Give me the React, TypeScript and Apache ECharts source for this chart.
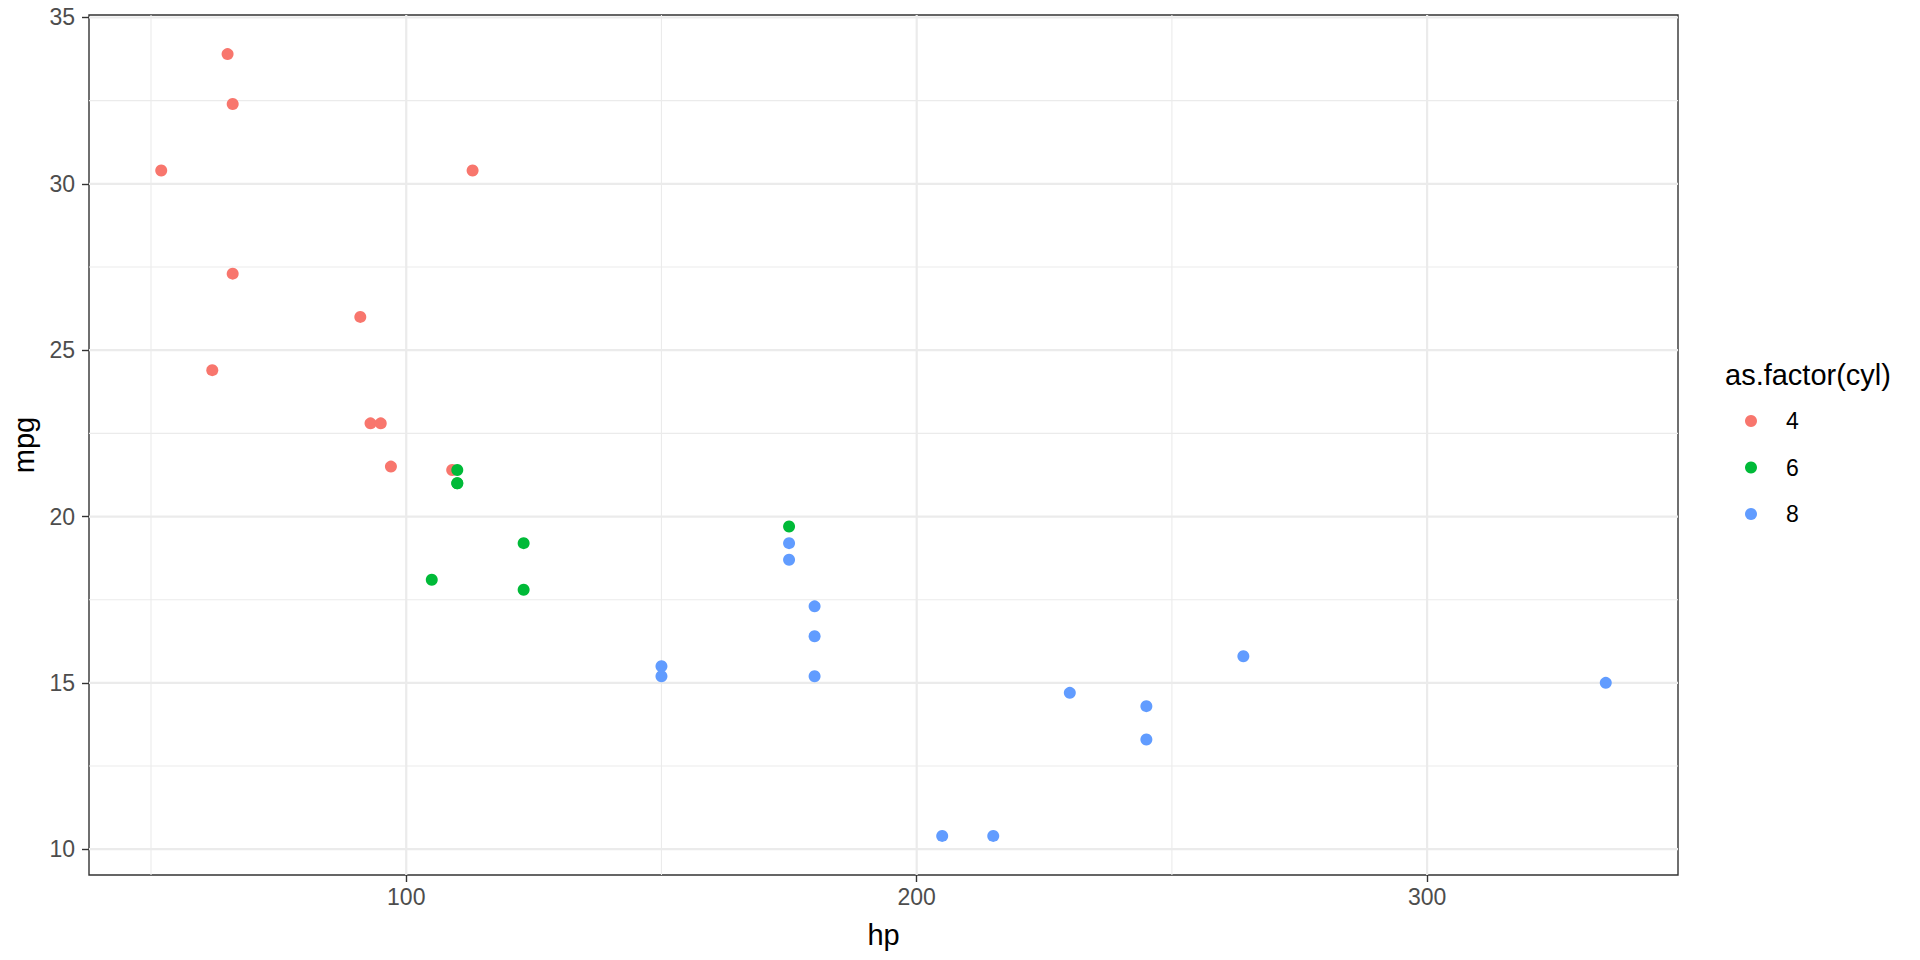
import React, { useEffect, useRef } from "react";
import * as echarts from "echarts";

const hp4 = [93, 62, 95, 66, 52, 65, 97, 66, 91, 113, 109];
const mpg4 = [22.8, 24.4, 22.8, 32.4, 30.4, 33.9, 21.5, 27.3, 26.0, 30.4, 21.4];
const hp6 = [110, 110, 110, 105, 123, 123, 175];
const mpg6 = [21.0, 21.0, 21.4, 18.1, 19.2, 17.8, 19.7];
const hp8 = [175, 245, 180, 180, 180, 205, 215, 230, 150, 150, 245, 175, 264, 335];
const mpg8 = [18.7, 14.3, 16.4, 17.3, 15.2, 10.4, 10.4, 14.7, 15.5, 15.2, 13.3, 19.2, 15.8, 15.0];

const cylLevels = ["4", "6", "8"];
const cylColors = ["#F8766D", "#00BA38", "#619CFF"];

const xMajor = [100, 200, 300];
const xMinor = [50, 150, 250];
const yMajor = [10, 15, 20, 25, 30, 35];
const yMinor = [12.5, 17.5, 22.5, 27.5, 32.5];

const xMin = 37.85;
const xMax = 349.15;
const yMin = 9.225;
const yMax = 35.075;

const FONT = "'Liberation Sans', Arial, Helvetica, sans-serif";

export default function App() {
  const ref = useRef<HTMLDivElement>(null);
  useEffect(() => {
    if (!ref.current) return;
    const chart = echarts.init(ref.current, null, { renderer: "svg" });
    const zip = (xs: number[], ys: number[]) => xs.map((x, i) => [x, ys[i]]);
    const groups = [zip(hp4, mpg4), zip(hp6, mpg6), zip(hp8, mpg8)];

    const gridData = [
      ...xMinor.map((v) => [0, v, 1.1]),
      ...yMinor.map((v) => [1, v, 1.1]),
      ...xMajor.map((v) => [0, v, 2.2]),
      ...yMajor.map((v) => [1, v, 2.2]),
    ];

    chart.setOption({
      animation: false,
      textStyle: { fontFamily: FONT },
      grid: {
        left: 89,
        right: 242,
        top: 15,
        bottom: 85,
        show: true,
        backgroundColor: "#FFFFFF",
        borderColor: "#333333",
        borderWidth: 1.4,
      },
      xAxis: {
        type: "value",
        min: xMin,
        max: xMax,
        name: "hp",
        nameLocation: "middle",
        nameGap: 45,
        nameTextStyle: { fontSize: 29, color: "#000000", fontFamily: FONT },
        axisLine: { show: false },
        splitLine: { show: false },
        axisTick: {
          show: true,
          length: 7,
          customValues: xMajor,
          lineStyle: { color: "#333333", width: 1.4 },
        },
        axisLabel: {
          customValues: xMajor,
          fontSize: 23,
          color: "#4D4D4D",
          margin: 10,
          fontFamily: FONT,
        },
      },
      yAxis: {
        type: "value",
        min: yMin,
        max: yMax,
        name: "mpg",
        nameLocation: "middle",
        nameGap: 50,
        nameRotate: 90,
        nameTextStyle: { fontSize: 29, color: "#000000", fontFamily: FONT },
        axisLine: { show: false },
        splitLine: { show: false },
        axisTick: {
          show: true,
          length: 7,
          customValues: yMajor,
          lineStyle: { color: "#333333", width: 1.4 },
        },
        axisLabel: {
          customValues: yMajor,
          fontSize: 23,
          color: "#4D4D4D",
          margin: 14,
          fontFamily: FONT,
        },
      },
      legend: {
        orient: "vertical",
        left: 1740,
        top: 404,
        itemWidth: 12,
        itemHeight: 12,
        itemGap: 22.5,
        icon: "circle",
        data: cylLevels,
        textStyle: {
          fontSize: 23,
          color: "#000000",
          fontFamily: FONT,
          lineHeight: 24,
          padding: [0, 0, 0, 24],
        },
      },
      graphic: [
        {
          type: "text",
          left: 1725,
          top: 360,
          style: {
            text: "as.factor(cyl)",
            fontSize: 29,
            fill: "#000000",
            fontFamily: FONT,
          },
        },
      ],
      series: [
        {
          type: "custom",
          silent: true,
          z: 1,
          data: gridData,
          renderItem: (params: any, api: any) => {
            const dir = api.value(0);
            const v = api.value(1);
            const w = api.value(2);
            const cs = params.coordSys;
            if (dir === 0) {
              const px = api.coord([v, yMin])[0];
              return {
                type: "line",
                shape: { x1: px, y1: cs.y, x2: px, y2: cs.y + cs.height },
                style: { stroke: "#EBEBEB", lineWidth: w },
              };
            }
            const py = api.coord([xMin, v])[1];
            return {
              type: "line",
              shape: { x1: cs.x, y1: py, x2: cs.x + cs.width, y2: py },
              style: { stroke: "#EBEBEB", lineWidth: w },
            };
          },
        },
        ...cylLevels.map((lvl, i) => ({
          type: "scatter",
          name: lvl,
          z: 3,
          symbol: "circle",
          symbolSize: 12,
          itemStyle: { color: cylColors[i], opacity: 1 },
          data: groups[i],
        })),
      ],
    });
    return () => chart.dispose();
  }, []);

  return (
    <div
      ref={ref}
      style={{ position: "fixed", left: 0, top: 0, width: 1920, height: 960, background: "#FFFFFF" }}
    />
  );
}
